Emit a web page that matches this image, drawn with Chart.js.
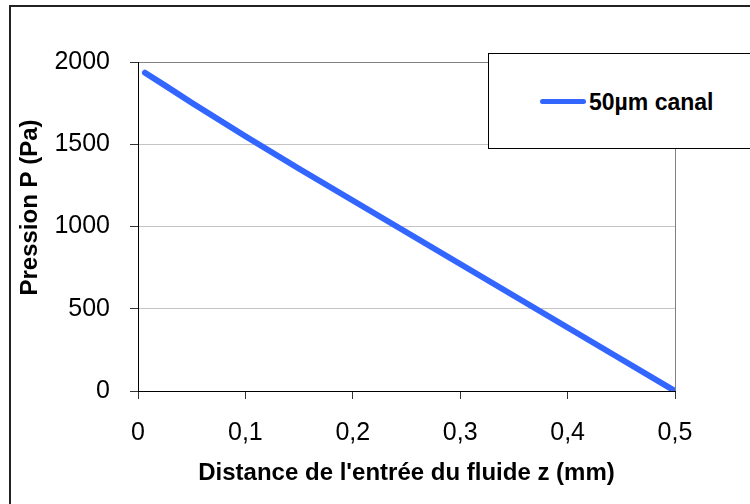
<!DOCTYPE html>
<html>
<head>
<meta charset="utf-8">
<script src="https://cdn.jsdelivr.net/npm/chart.js@4.4.0/dist/chart.umd.min.js"></script>
<style>
    html, body { margin: 0; padding: 0; background: #fff; overflow: hidden; }
    #wrap { position: relative; width: 750px; height: 504px; overflow: hidden; }
    #frame { position: absolute; left: 9px; top: 5px; width: 800px; height: 600px; border: 2px solid #222; box-sizing: border-box; }
    #chart { position: absolute; left: 0; top: 0; }
    #legend {
        position: absolute; left: 488px; top: 53px; width: 300px; height: 96px;
        border: 1.5px solid #000; background: #fff; box-sizing: border-box;
        font-family: 'Liberation Sans', Arial, sans-serif; font-weight: bold; font-size: 23px; color: #000;
    }
    #legend .swatch { position: absolute; left: 51px; top: 45px; width: 46px; height: 5px; border-radius: 3px; }
    #legend .label { position: absolute; left: 100px; top: 34px; line-height: 28px; }
</style>
</head>
<body>
<div id="wrap">
    <div id="frame"></div>
    <canvas id="chart" width="750" height="504"></canvas>
    <div id="legend"><span class="swatch"></span><span class="label"></span></div>
</div>
<script>
// --- Data ---
const distance = [0.0065, 0.025, 0.05, 0.1, 0.15, 0.2, 0.25, 0.3, 0.35, 0.4, 0.45, 0.5];
const pression = [1935, 1858, 1752, 1549, 1351, 1158, 965, 772, 579, 386, 193, 0];
const seriesLabel = '50µm canal';
const xTicks = [0, 0.1, 0.2, 0.3, 0.4, 0.5];
const yTicks = [0, 500, 1000, 1500, 2000];
const xTitle = "Distance de l'entrée du fluide z (mm)";
const yTitle = 'Pression P (Pa)';

const lineColor = '#3366ff';
const fontFamily = "'Liberation Sans', Arial, sans-serif";

// legend (sits over the plot like the original)
document.querySelector('#legend .swatch').style.background = lineColor;
document.querySelector('#legend .label').textContent = seriesLabel;

// gridline colours per tick: frame lines darker, inner lines light grey
const yGridColors = yTicks.map(v => v === 0 ? 'rgba(0,0,0,0)' : (v === 2000 ? '#808080' : '#c4c4c4'));
const xGridColors = xTicks.map(v => v === 0.5 ? '#808080' : 'rgba(0,0,0,0)');

// y title is placed a bit above the plot centre, so draw it by hand
const yTitlePlugin = {
    id: 'yTitle',
    afterDraw(chart) {
        const { ctx, chartArea } = chart;
        ctx.save();
        ctx.translate(30, (chartArea.top + chartArea.bottom) / 2 - 19);
        ctx.rotate(-Math.PI / 2);
        ctx.font = 'bold 24px ' + fontFamily;
        ctx.fillStyle = '#000';
        ctx.textAlign = 'center';
        ctx.textBaseline = 'middle';
        ctx.fillText(yTitle, 0, 0);
        ctx.restore();
    }
};

const fmt = v => Number(v.toFixed(1)).toString().replace('.', ',');

new Chart(document.getElementById('chart'), {
    type: 'line',
    data: {
        datasets: [{
            label: seriesLabel,
            data: distance.map((z, i) => ({ x: z, y: pression[i] })),
            borderColor: lineColor,
            borderWidth: 6,
            borderCapStyle: 'round',
            borderJoinStyle: 'round',
            pointRadius: 0,
            tension: 0,
            fill: false
        }]
    },
    options: {
        responsive: false,
        animation: false,
        layout: { padding: { left: 10, top: 62, right: 75, bottom: 0 } },
        plugins: { legend: { display: false }, tooltip: { enabled: false } },
        scales: {
            x: {
                type: 'linear',
                min: 0, max: 0.5,
                afterBuildTicks: s => { s.ticks = xTicks.map(v => ({ value: v })); },
                afterFit: s => { s.height = 113; },
                ticks: {
                    callback: v => fmt(v),
                    font: { family: fontFamily, size: 25 },
                    color: '#000',
                    padding: 19,
                    maxRotation: 0
                },
                grid: {
                    color: xGridColors,
                    tickColor: '#333',
                    tickLength: 8
                },
                border: { color: '#000', width: 1 },
                title: {
                    display: true,
                    text: xTitle,
                    font: { family: fontFamily, size: 24, weight: 'bold' },
                    color: '#000',
                    padding: { top: 0, bottom: 16 }
                }
            },
            y: {
                min: 0, max: 2000,
                afterBuildTicks: s => { s.ticks = yTicks.map(v => ({ value: v })); },
                afterFit: s => { s.width = 128; },
                ticks: {
                    callback: v => String(v),
                    font: { family: fontFamily, size: 25 },
                    color: '#000',
                    padding: 20
                },
                grid: {
                    color: yGridColors,
                    tickColor: '#333',
                    tickLength: 8
                },
                border: { color: '#000', width: 1 }
            }
        }
    },
    plugins: [yTitlePlugin]
});
</script>
</body>
</html>
